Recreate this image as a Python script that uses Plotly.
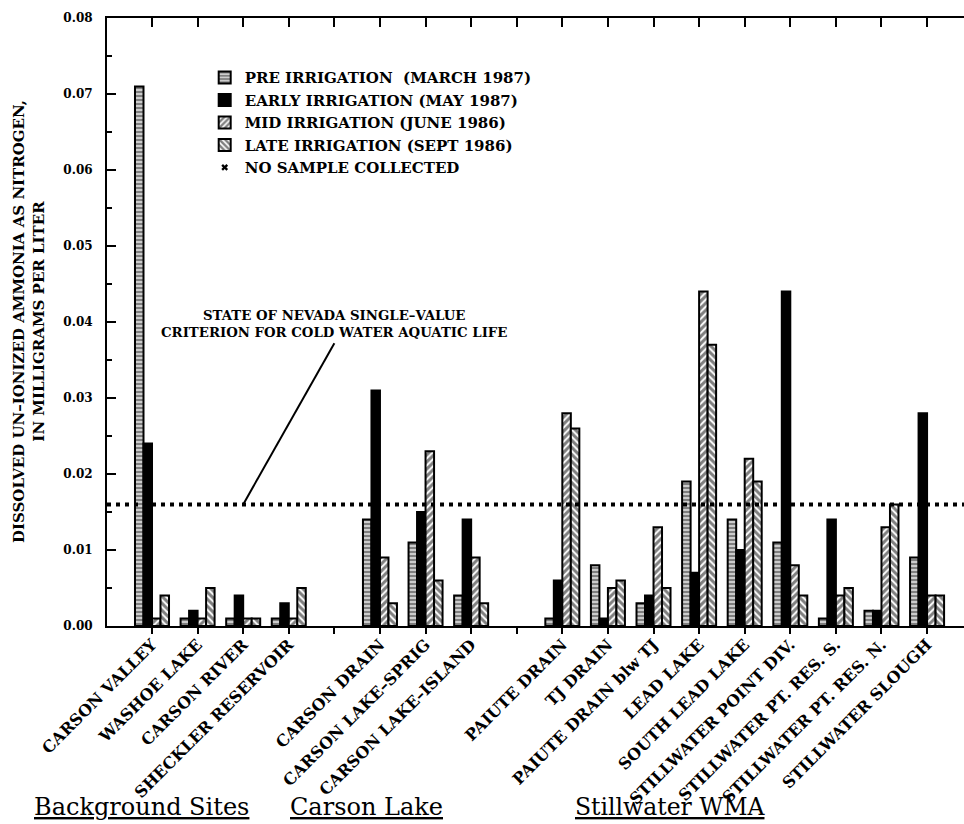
import plotly.graph_objects as go

# ---------------- data ----------------
groups = ["Background Sites", "Carson Lake", "Stillwater WMA"]
background_sites = ["CARSON VALLEY", "WASHOE LAKE", "CARSON RIVER", "SHECKLER RESERVOIR"]
carson_lake_sites = ["CARSON DRAIN", "CARSON LAKE–SPRIG", "CARSON LAKE–ISLAND"]
stillwater_sites = ["PAIUTE DRAIN", "TJ DRAIN", "PAIUTE DRAIN blw TJ", "LEAD LAKE",
                    "SOUTH LEAD LAKE", "STILLWATER POINT DIV.", "STILLWATER PT. RES. S.",
                    "STILLWATER PT. RES. N.", "STILLWATER SLOUGH"]

series_names = ["PRE IRRIGATION  (MARCH 1987)", "EARLY IRRIGATION (MAY 1987)",
                "MID IRRIGATION (JUNE 1986)", "LATE IRRIGATION (SEPT 1986)"]
no_sample_label = "NO SAMPLE COLLECTED"

pre_irrigation = [0.071, 0.001, 0.001, 0.001, 0.014, 0.011, 0.004,
                  0.001, 0.008, 0.003, 0.019, 0.014, 0.011, 0.001, 0.002, 0.009]
early_irrigation = [0.024, 0.002, 0.004, 0.003, 0.031, 0.015, 0.014,
                    0.006, 0.001, 0.004, 0.007, 0.010, 0.044, 0.014, 0.002, 0.028]
mid_irrigation = [0.001, 0.001, 0.001, 0.001, 0.009, 0.023, 0.009,
                  0.028, 0.005, 0.013, 0.044, 0.022, 0.008, 0.004, 0.013, 0.004]
late_irrigation = [0.004, 0.005, 0.001, 0.005, 0.003, 0.006, 0.003,
                   0.026, 0.006, 0.005, 0.037, 0.019, 0.004, 0.005, 0.016, 0.004]

criterion_value = 0.016
criterion_text = "STATE OF NEVADA SINGLE–VALUE<br>CRITERION FOR COLD WATER AQUATIC LIFE"
y_title = "DISSOLVED UN–IONIZED AMMONIA AS NITROGEN,<br>IN MILLIGRAMS PER LITER"
y_ticks = [0.00, 0.01, 0.02, 0.03, 0.04, 0.05, 0.06, 0.07, 0.08]

# ---------------- positions (sites with a one-slot gap between groups) ----------------
group_sites = [background_sites, carson_lake_sites, stillwater_sites]
site_names, site_pos = [], []
p = 0
for gi, sites in enumerate(group_sites):
    for s in sites:
        site_names.append(s)
        site_pos.append(p)
        p += 1
    if gi < len(group_sites) - 1:
        p += 1
n_slots = p
tick_vals = list(range(n_slots))
tick_text = [site_names[site_pos.index(t)] if t in site_pos else "" for t in tick_vals]

x_range = [-0.987, n_slots - 1 + 0.81]

FONT = "DejaVu Serif"

fig = go.Figure()
styles = [
    dict(color="white", pattern=dict(shape="-", fgcolor="black", bgcolor="white", size=4, solidity=0.7)),
    dict(color="black"),
    dict(color="white", pattern=dict(shape="/", fgcolor="black", bgcolor="white", size=5, solidity=0.6)),
    dict(color="white", pattern=dict(shape="\\", fgcolor="black", bgcolor="white", size=5, solidity=0.6)),
]
for name, vals, st in zip(series_names,
                          [pre_irrigation, early_irrigation, mid_irrigation, late_irrigation],
                          styles):
    fig.add_trace(go.Bar(
        x=site_pos, y=vals, name=name,
        marker=dict(line=dict(color="black", width=2), **st),
    ))

fig.add_trace(go.Scatter(
    x=[None], y=[None], mode="markers", name=no_sample_label,
    marker=dict(symbol="x", size=6, color="black"),
))
# trace for the mirrored top axis
fig.add_trace(go.Scatter(x=[None], y=[None], xaxis="x2", showlegend=False, hoverinfo="skip"))

fig.add_shape(type="line", xref="paper", x0=0, x1=1, yref="y",
              y0=criterion_value, y1=criterion_value,
              line=dict(color="black", width=4, dash="4px,5px"))
fig.add_shape(type="line", xref="x", yref="y", x0=2, y0=criterion_value, x1=4, y1=0.0372,
              line=dict(color="black", width=2))
fig.add_annotation(x=4, y=0.0397, xref="x", yref="y", text=criterion_text, showarrow=False,
                   font=dict(family=FONT, size=13.3, weight="bold", color="black"),
                   xanchor="center", yanchor="middle", align="center")

fig.add_annotation(x=-0.091, y=0.5, xref="paper", yref="paper", text=y_title, showarrow=False,
                   textangle=-90, xanchor="center", yanchor="middle", align="center",
                   font=dict(family=FONT, size=15, weight="bold", color="black"))

group_label_x = [0.04, 0.303, 0.657]
group_label_size = [24, 24, 23.5]
for g, gx, gs in zip(groups, group_label_x, group_label_size):
    fig.add_annotation(x=gx, y=-0.298, xref="paper", yref="paper", text="<u>" + g + "</u>",
                       showarrow=False, xanchor="center", yanchor="middle",
                       font=dict(family=FONT, size=gs, weight="normal", color="black"))

fig.update_layout(
    width=964, height=824,
    margin=dict(l=107, r=0, t=18, b=198),
    paper_bgcolor="white", plot_bgcolor="white",
    font=dict(family=FONT, size=13, color="black", weight="bold"),
    barmode="group", bargap=0.254, bargroupgap=0,
    showlegend=True,
    legend=dict(x=0.114, y=0.929, xanchor="left", yanchor="top",
                bgcolor="rgba(0,0,0,0)", borderwidth=0,
                font=dict(family=FONT, size=15, weight="bold", color="black"),
                tracegroupgap=0, itemwidth=30),
    xaxis=dict(range=x_range, tickmode="array", tickvals=tick_vals, ticktext=tick_text,
               tickangle=-45, ticks="outside", ticklen=6, tickwidth=2, tickcolor="black",
               showline=True, linewidth=2, linecolor="black", showgrid=False, zeroline=False,
               ticklabelstandoff=-5,
               tickfont=dict(family=FONT, size=16, weight="bold", color="black")),
    xaxis2=dict(overlaying="x", side="top", range=x_range, tickmode="array", tickvals=tick_vals,
                ticks="inside", ticklen=9, tickwidth=2, tickcolor="black", showticklabels=False,
                showline=True, linewidth=2, linecolor="black", showgrid=False, zeroline=False),
    yaxis=dict(range=[0, 0.08], tickmode="array", tickvals=y_ticks, tickformat=".2f",
               ticks="inside", ticklen=9, tickwidth=2, tickcolor="black",
               minor=dict(ticks="inside", ticklen=5, tickwidth=2, tickcolor="black",
                          tickmode="linear", tick0=0.005, dtick=0.01),
               showline=True, linewidth=2, linecolor="black", showgrid=False, zeroline=False,
               ticklabelstandoff=10,
               tickfont=dict(family=FONT, size=12, weight="bold", color="black")),
)

fig.write_html("out.html")
